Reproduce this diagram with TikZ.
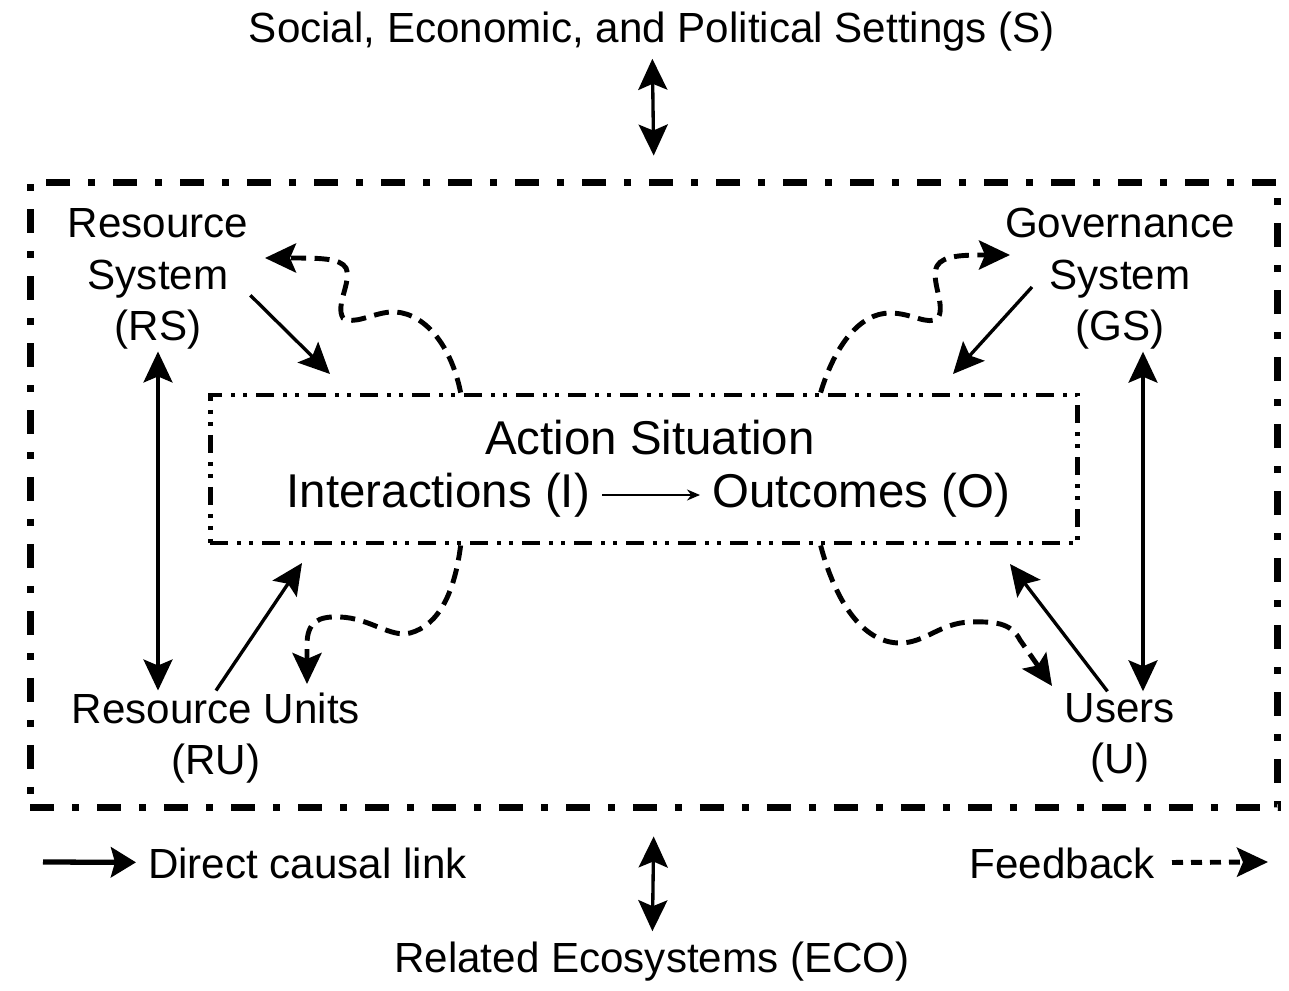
\documentclass[tikz,border=0pt]{standalone}
\usepackage{fontspec}
\setmainfont{Liberation Sans}
\usetikzlibrary{arrows.meta,calc}
\begin{document}
\begin{tikzpicture}[x=0.02cm, y=-0.02cm,
    every node/.style={font=\fontsize{24}{29.3}\selectfont, align=center, inner sep=1pt},
    astext/.style={font=\fontsize{27}{32}\selectfont},
    tip/.style={-{Stealth[length=0.62cm,width=0.58cm,inset=0.12cm]}},
    causal/.style={line width=1.9pt, tip},
    twoway/.style={line width=1.9pt, {Stealth[length=0.62cm,width=0.58cm,inset=0.12cm]}-{Stealth[length=0.62cm,width=0.58cm,inset=0.12cm]}},
    feedback/.style={line width=2.8pt, dash pattern=on 0.3cm off 0.17cm, tip},
    sesframe/.style={draw, line width=4pt, dash pattern=on 0.48cm off 0.36cm on 0.14cm off 0.36cm, minimum width=24.96cm, minimum height=12.52cm},
    asframe/.style={draw, line width=2.8pt, dash pattern=on 0.36cm off 0.18cm on 0.08cm off 0.16cm on 0.08cm off 0.18cm, minimum width=17.36cm, minimum height=2.96cm}]
    \useasboundingbox (0,0) rectangle (1289,991);
    \node (ses) at (652,32) {Social, Economic, and Political Settings (S)};
    \node[sesframe] (frame) at (654,495) {};
    \node[asframe] (as) at (644,469) {};
    \node[astext] (act) at (650,438) {Action Situation};
    \node[astext, anchor=east] (int) at (592,495) {Interactions (I)};
    \node[astext, anchor=west] (out) at (710,495) {Outcomes (O)};
    \node (rs) at (158,279) {Resource\\System\\(RS)};
    \node (gs) at (1120,279) {Governance\\System\\(GS)};
    \node (ru) at (216,738) {Resource Units\\(RU)};
    \node (u) at (1120,738) {Users\\(U)};
    \node[anchor=west] (dcl) at (146,863) {Direct causal link};
    \node[anchor=east] (fbl) at (1157,863) {Feedback};
    \node (eco) at (652,962) {Related Ecosystems (ECO)};
    \coordinate (rstip) at (330,374);
    \coordinate (gstail) at (1032,287);
    \coordinate (gstip) at (953,374);
    \coordinate (rutip) at (302,563);
    \coordinate (utip) at (1010,564);
    \coordinate (rsfb) at (265,258);
    \coordinate (gsfb) at (1010,255);
    \coordinate (rufb) at (307,684);
    \coordinate (ufb) at (1052,686);
    \coordinate (gsdown) at ($(gs.south)+(23,0)$);
    \coordinate (dclstart) at (43,862);
    \coordinate (fblend) at (1268,862);
    \draw[twoway, shorten <=0.1cm, shorten >=0.46cm] (ses) -- (frame.north);
    \draw[twoway, shorten <=0.5cm, shorten >=0.18cm] (frame.south) -- (eco);
    \draw[twoway] (rs.south) -- (rs.south |- ru.north);
    \draw[twoway] (gsdown) -- (gsdown |- u.north);
    \draw[causal] (rs.-10) -- (rstip);
    \draw[causal] (gstail) -- (gstip);
    \draw[causal] (ru.north) -- (rutip);
    \draw[causal] (u.105) -- (utip);
    \draw[line width=1pt, shorten <=0.2cm, shorten >=0.2cm, -{Stealth[length=0.26cm,width=0.22cm]}] (int) -- (out);
    \draw[feedback] ($(as.north west)+(253,0)$) .. controls (450,340) and (420,310) .. (390,312) .. controls (370,314) and (355,325) .. (343,318) .. controls (335,305) and (352,282) .. (346,268) .. controls (340,258) and (320,258) .. (rsfb);
    \draw[feedback] ($(as.north west)+(613,0)$) .. controls (835,345) and (860,313) .. (890,313) .. controls (912,313) and (928,326) .. (938,318) .. controls (946,305) and (930,280) .. (937,266) .. controls (943,255) and (965,255) .. (gsfb);
    \draw[feedback] ($(as.south west)+(253,0)$) .. controls (455,590) and (440,625) .. (410,633) .. controls (390,638) and (370,618) .. (340,617) .. controls (318,616) and (307,622) .. (307,645) -- (rufb);
    \draw[feedback] ($(as.south west)+(613,0)$) .. controls (835,600) and (862,643) .. (900,643) .. controls (925,643) and (940,623) .. (970,622) .. controls (1000,621) and (1012,625) .. (1020,640) -- (ufb);
    \draw[line width=3pt, shorten >=0.2cm, -{Stealth[length=0.5cm,width=0.6cm,inset=0.08cm]}] (dclstart) -- (dcl);
    \draw[feedback, dash pattern=on 0.22cm off 0.16cm, shorten <=0.3cm] (fbl) -- (fblend);
\end{tikzpicture}
\end{document}
